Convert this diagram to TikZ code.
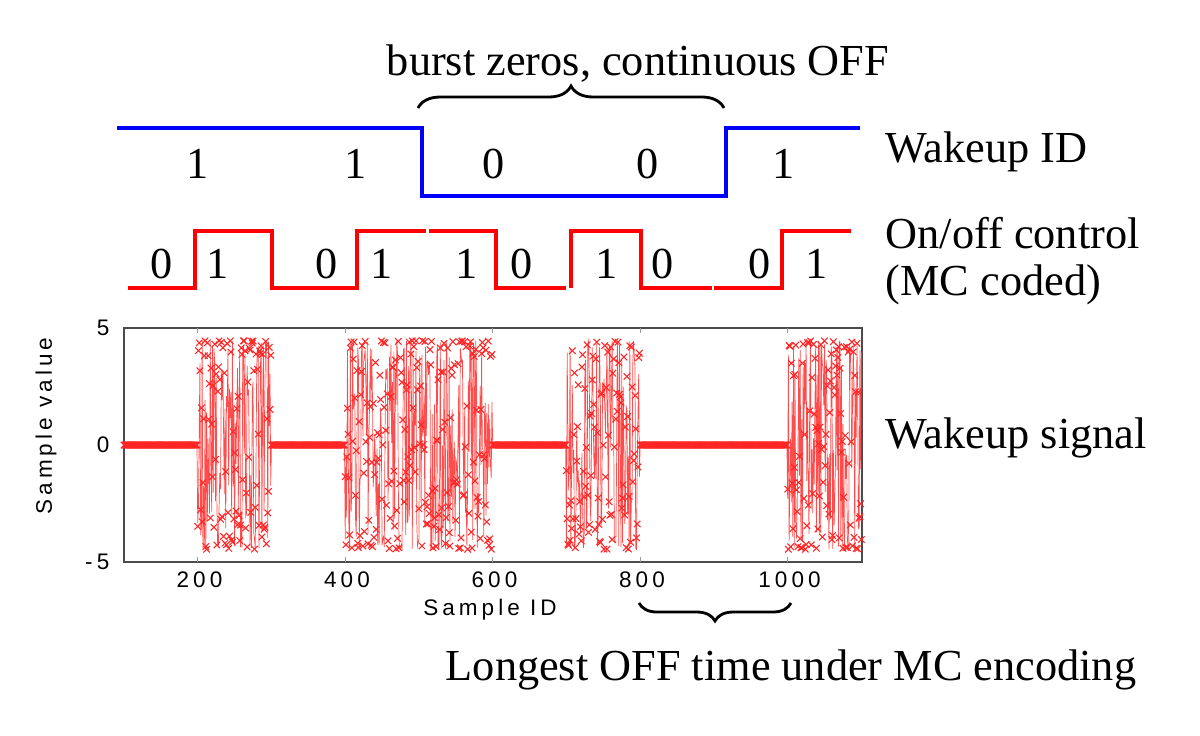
\documentclass[tikz,border=0pt]{standalone}
\usepackage{fontspec}
\setmainfont{Liberation Serif}
\newfontfamily\plotfont[LetterSpace=18]{Liberation Sans}
\usetikzlibrary{decorations.pathreplacing}
\tikzset{
  bitlab/.style = {anchor=base, inner sep=0pt, font=\fontsize{12.6}{14}\selectfont},
  sidelab/.style = {anchor=base west, inner sep=0pt, font=\fontsize{12.6}{14}\selectfont},
  idline/.style = {blue, line width=0.9pt},
  mcline/.style = {red, line width=0.9pt},
  bracedec/.style = {decorate, decoration={brace, amplitude=#1}, line width=0.8pt},
  ticklab/.style = {inner sep=0pt, font=\plotfont\fontsize{6.4}{7}\selectfont},
  sigline/.style = {red!70, line width=0.2pt}
}

\begin{document}
\begin{tikzpicture}[x=0.01cm, y=-0.01cm]
\useasboundingbox (0,0) rectangle (1200,735);

% wakeup ID
\draw[idline] (117,128) -- (422,128) -- (422,196) -- (726,196) -- (726,128) -- (860,128);
\node[bitlab] (id1) at (198,178) {1};
\node[bitlab] (id2) at (356,178) {1};
\node[bitlab] (id3) at (494,178) {0};
\node[bitlab] (id4) at (648,178) {0};
\node[bitlab] (id5) at (784,178) {1};

% on/off control, MC coded
\draw[mcline] (128,288) -| (195,231) -| (272,288) -| (357,231) -- (426,231);
\draw[mcline] (429,231) -| (496,288) -- (566,288);
\draw[mcline] (571,288) |- (641,231) |- (712,288);
\draw[mcline] (714,288) -| (782,231) -- (851,231);
\node[bitlab] (mc1) at (162,278) {0};
\node[bitlab] (mc2) at (218,278) {1};
\node[bitlab] (mc3) at (327,278) {0};
\node[bitlab] (mc4) at (382,278) {1};
\node[bitlab] (mc5) at (467,278) {1};
\node[bitlab] (mc6) at (522,278) {0};
\node[bitlab] (mc7) at (607,278) {1};
\node[bitlab] (mc8) at (663,278) {0};
\node[bitlab] (mc9) at (760,278) {0};
\node[bitlab] (mc10) at (817,278) {1};

% braces
\draw[bracedec=0.22cm] (418,108) -- (724,108);
\node[bitlab] (burst) at (638,75) {burst zeros, continuous OFF};
\draw[bracedec=0.18cm] (791,603) -- (639,603);
\node[bitlab] (longest) at (791,680) {Longest OFF time under MC encoding};

% side labels
\node[sidelab] (wid) at (885,162) {Wakeup ID};
\node[sidelab] (onoff) at (885,248) {On/off control};
\node[sidelab] (mccoded) at (885,295) {(MC coded)};
\node[sidelab] (wsig) at (885,448) {Wakeup signal};

% sample plot
\draw[black!70, line width=0.5pt] (124,328) rectangle (862,562);
\foreach \s in {200,400,...,1000} {
  \draw[black!40, line width=0.4pt] ({50.25+0.7375*\s},562) -- ++(0,-5);
  \draw[black!40, line width=0.4pt] ({50.25+0.7375*\s},328) -- ++(0,5);
  \node[ticklab] (xt\s) at ({52+0.7375*\s},580) {\s};
}
\node[ticklab, anchor=east] (yt1) at (110,328) {5};
\node[ticklab, anchor=east] (yt2) at (110,445) {0};
\node[ticklab, anchor=east] (yt3) at (110,562) {-5};
\node[ticklab] (xlab) at (490,610) {Sample ID};
\node[ticklab, rotate=90] (ylab) at (46,426) {Sample value};

\pgfmathsetseed{17}
\begin{scope}[shift={(50.25,445)}, x=0.007375cm, y=0.234cm]
\draw[sigline] plot[mark=x, mark size=1.3pt, mark options={red!85, line width=0.3pt},
  samples at={100,101,...,1100}]
  ({\x}, {((\x>=200 && \x<300) || (\x>=400 && \x<600) || (\x>=700 && \x<800) || \x>=1000) ? 4.45*sin(360*rnd) : 0});
\end{scope}
\end{tikzpicture}
\end{document}
